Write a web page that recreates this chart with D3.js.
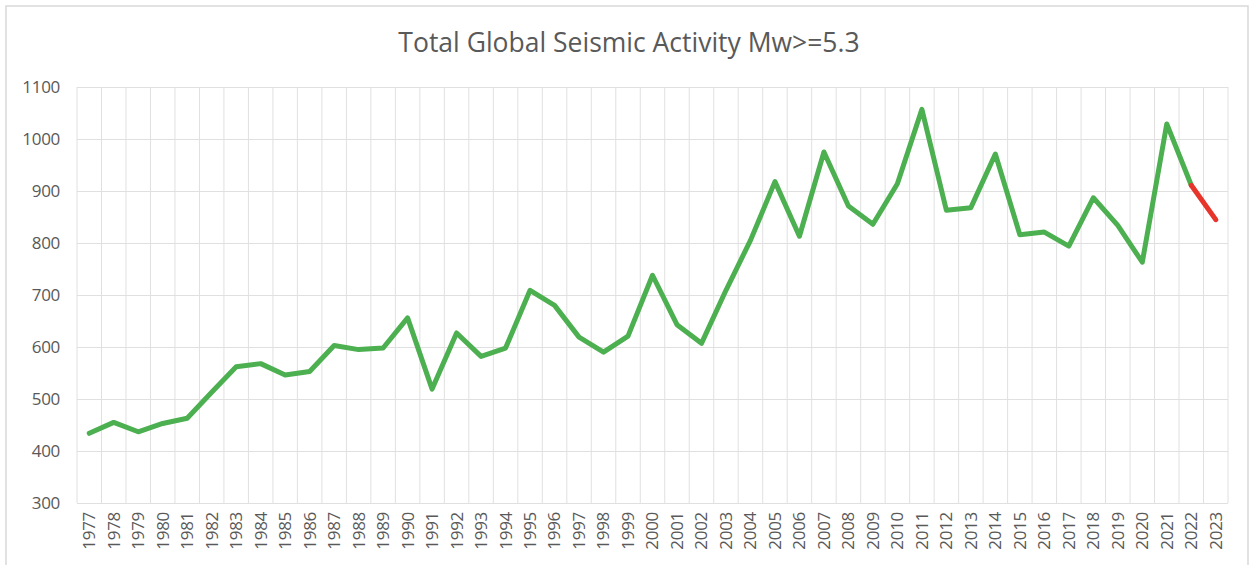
<!DOCTYPE html>
<html>

<head>
  <title>Total Global Seismic Activity</title>
  <script src="https://cdn.jsdelivr.net/npm/d3@7/dist/d3.min.js"></script>
  <style>
    body { margin: 0; background: #fff; }
    text { font-family: "Open Sans", sans-serif; fill: #595959; }
  </style>
</head>

<body>
  <div id="chart"></div>

  <script>
    // Data
    const years = ["1977", "1978", "1979", "1980", "1981", "1982", "1983", "1984", "1985", "1986",
      "1987", "1988", "1989", "1990", "1991", "1992", "1993", "1994", "1995", "1996",
      "1997", "1998", "1999", "2000", "2001", "2002", "2003", "2004", "2005", "2006",
      "2007", "2008", "2009", "2010", "2011", "2012", "2013", "2014", "2015", "2016",
      "2017", "2018", "2019", "2020", "2021", "2022", "2023"];
    const counts = [434, 455, 437, 453, 463, 513, 562, 568, 546, 553,
      603, 595, 598, 656, 519, 627, 582, 598, 709, 680,
      619, 590, 621, 738, 643, 607, 709, 805, 918, 813,
      975, 871, 836, 914, 1057, 863, 868, 971, 816, 821,
      794, 887, 834, 763, 1029, 911, 845];
    const yTicks = [300, 400, 500, 600, 700, 800, 900, 1000, 1100];
    const title = "Total Global Seismic Activity Mw>=5.3";
    const lastYears = 2; // the last segment (2022-2023) is drawn in red

    const W = 1250, H = 565;
    const margin = { top: 87, right: 22, bottom: 62, left: 77 };
    const gridColor = "#e0e0e0";

    const svg = d3.select("#chart").append("svg")
      .attr("width", W)
      .attr("height", H);

    // outer chart border
    svg.append("rect")
      .attr("x", 6).attr("y", 6)
      .attr("width", 1242).attr("height", 570)
      .attr("fill", "none")
      .attr("stroke", "#d9d9d9")
      .attr("stroke-width", 1.5);

    const x = d3.scaleBand()
      .domain(years)
      .range([margin.left, W - margin.right]);

    const y = d3.scaleLinear()
      .domain([300, 1100])
      .range([H - margin.bottom, margin.top]);

    // horizontal gridlines + y labels
    svg.append("g")
      .attr("transform", `translate(${margin.left},0)`)
      .call(d3.axisLeft(y).tickValues(yTicks)
        .tickFormat(d3.format("d"))
        .tickSize(-(W - margin.left - margin.right))
        .tickPadding(17))
      .call(g => g.select(".domain").remove())
      .call(g => g.selectAll("line").attr("stroke", gridColor))
      .call(g => g.selectAll("text")
        .attr("font-size", "17px")
        .style("letter-spacing", "-0.3px")
        .attr("fill", "#6b6b6b"));

    // vertical gridlines at category boundaries
    const bounds = years.map(d => x(d)).concat([W - margin.right]);
    svg.append("g")
      .selectAll("line")
      .data(bounds)
      .enter()
      .append("line")
      .attr("x1", d => d).attr("x2", d => d)
      .attr("y1", margin.top).attr("y2", H - margin.bottom)
      .attr("stroke", gridColor)
      .attr("stroke-width", 1);

    // x labels rotated
    svg.append("g")
      .attr("transform", `translate(0,${H - margin.bottom})`)
      .call(d3.axisBottom(x).tickSize(0).tickPadding(0))
      .call(g => g.select(".domain").remove())
      .call(g => g.selectAll("text")
        .attr("font-size", "17px")
        .style("letter-spacing", "-0.3px")
        .attr("fill", "#6b6b6b")
        .attr("text-anchor", "end")
        .attr("dy", "0.35em")
        .attr("transform", "translate(0,9) rotate(-90)"));

    const points = years.map((d, i) => ({ year: d, value: counts[i] }));
    const line = d3.line()
      .x(d => x(d.year) + x.bandwidth() / 2)
      .y(d => y(d.value));

    const split = points.length - lastYears;

    svg.append("path")
      .datum(points.slice(0, split + 1))
      .attr("fill", "none")
      .attr("stroke", "#4caf50")
      .attr("stroke-width", 5)
      .attr("stroke-linejoin", "round")
      .attr("stroke-linecap", "round")
      .attr("d", line);

    svg.append("path")
      .datum(points.slice(split))
      .attr("fill", "none")
      .attr("stroke", "#e8352b")
      .attr("stroke-width", 5)
      .attr("stroke-linecap", "round")
      .attr("d", line);

    // title
    svg.append("text")
      .attr("x", 629)
      .attr("y", 52)
      .attr("text-anchor", "middle")
      .attr("font-size", "26.5px")
      .text(title);
  </script>
</body>

</html>
